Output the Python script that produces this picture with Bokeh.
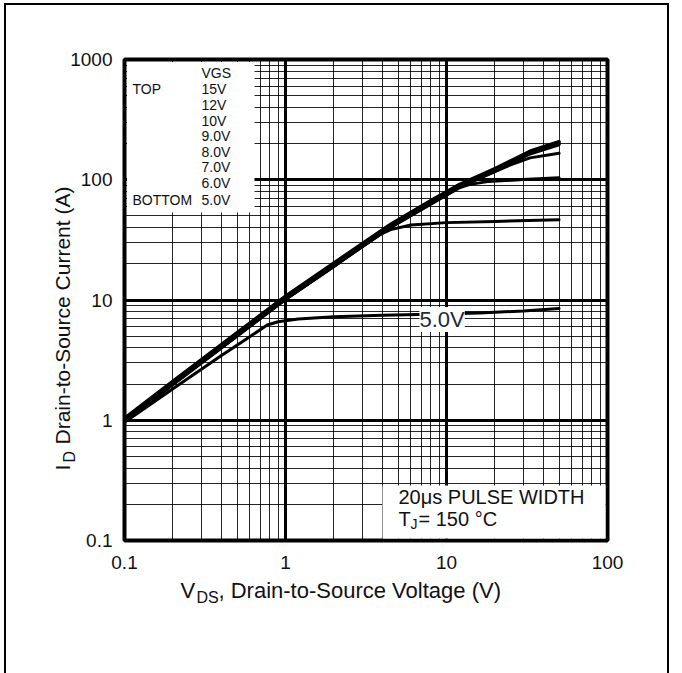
import math
from bokeh.plotting import figure
from bokeh.models import FixedTicker, Label, BoxAnnotation, Range1d
from bokeh.embed import file_html
from bokeh.resources import INLINE

# ---------------- data ----------------
vgs_labels = ["15V", "12V", "10V", "9.0V", "8.0V", "7.0V", "6.0V", "5.0V"]

vds_15v = [0.1, 0.2, 0.5, 1, 2, 4.5, 8, 12, 20, 33, 50]
id_15v = [1.04, 2.12, 5.36, 10.8, 20.4, 42.8, 67.5, 91.5, 124, 173, 208]

vds_12v = [0.1, 0.2, 0.5, 1, 2, 4.5, 8, 12, 20, 33, 50]
id_12v = [1.02, 2.08, 5.26, 10.6, 20.0, 42.0, 66.2, 90, 122, 170, 204]

vds_10v = [0.1, 0.2, 0.5, 1, 2, 4.5, 8, 12, 20, 33, 50]
id_10v = [1.0, 2.04, 5.16, 10.4, 19.6, 41.2, 65, 88.5, 120, 167, 200]

vds_9v = [0.1, 0.2, 0.5, 1, 2, 4.5, 8, 12, 20, 33, 50]
id_9v = [0.98, 2.0, 5.06, 10.2, 19.2, 40.4, 63.8, 87, 118, 164, 196]

vds_8v = [0.1, 0.2, 0.5, 1, 2, 4.5, 8, 12, 18, 25, 33, 50]
id_8v = [0.98, 2.0, 5.06, 10.2, 19.2, 40.4, 63.5, 86.5, 110, 133, 152, 166]

vds_7v = [0.1, 0.2, 0.5, 1, 2, 4.5, 8, 10, 12, 14, 18, 30, 50]
id_7v = [0.98, 1.99, 5.04, 10.15, 19.1, 40.2, 62.5, 74.5, 85.5, 91.5, 96.5, 100.5, 104]

vds_6v = [0.1, 0.2, 0.5, 1, 2, 3.5, 4.5, 6, 10, 20, 50]
id_6v = [0.97, 1.98, 5.0, 10.1, 19.0, 33.0, 38.5, 42.0, 44.0, 45.0, 46.5]

vds_5v = [0.1, 0.2, 0.4, 0.6, 0.77, 0.9, 1.2, 2, 4, 8, 16, 30, 50]
id_5v = [0.96, 1.83, 3.45, 4.95, 6.2, 6.6, 6.95, 7.25, 7.45, 7.6, 7.8, 8.1, 8.5]

x_ticks = [0.1, 1, 10, 100]
x_tick_labels = ["0.1", "1", "10", "100"]
y_ticks = [0.1, 1, 10, 100, 1000]
y_tick_labels = ["0.1", "1", "10", "100", "1000"]

curves = [
    (vds_15v, id_15v, 3.2),
    (vds_12v, id_12v, 3.2),
    (vds_10v, id_10v, 3.2),
    (vds_9v, id_9v, 3.2),
    (vds_8v, id_8v, 3.0),
    (vds_7v, id_7v, 3.0),
    (vds_6v, id_6v, 3.0),
    (vds_5v, id_5v, 3.0),
]

# ---------------- layout geometry ----------------
OFF = 0                      # observed page offset of the figure
W, H = 672, 673
FL, FT, FW, FH = 124, 59, 483, 481  # frame left/top/width/height inside figure
FONT = "Liberation Sans"
TXT = "#111111"


def xd(px):
    # page pixel -> Vds
    return 0.1 * 10 ** ((px - OFF - FL) / FW * 3)


def yd(py):
    return 10 ** (3 - (py - OFF - FT) / FH * 4)


p = figure(width=W, height=H, x_axis_type="log", y_axis_type="log",
           x_range=Range1d(0.1, 100), y_range=Range1d(0.1, 1000),
           output_backend="svg", toolbar_location=None,
           min_border_left=FL, min_border_right=W - FL - FW,
           min_border_top=FT, min_border_bottom=H - FT - FH)
# outer frame lines (left, top, right) drawn as the page background behind a transparent border
p.border_fill_color = None
p.styles = {
    "background": "linear-gradient(#000,#000) 4px 3px / 2px 100% no-repeat,"
                  "linear-gradient(#000,#000) 4px 3px / calc(100% - 7px) 2px no-repeat,"
                  "linear-gradient(#000,#000) calc(100% - 3px) 3px / 2px 100% no-repeat,"
                  "#ffffff"
}

p.outline_line_color = "black"
p.outline_line_width = 4
p.background_fill_color = "white"

x_minor = [m * 10 ** e for e in range(-1, 2) for m in range(2, 10)]
y_minor = [m * 10 ** e for e in range(-1, 3) for m in range(2, 10)]
p.xaxis.ticker = FixedTicker(ticks=x_ticks, minor_ticks=x_minor)
p.yaxis.ticker = FixedTicker(ticks=y_ticks, minor_ticks=y_minor)
p.xaxis.major_label_overrides = dict(zip(x_ticks, x_tick_labels))
p.yaxis.major_label_overrides = dict(zip(y_ticks, y_tick_labels))

for ax in (p.xaxis, p.yaxis):
    ax.axis_line_color = None
    ax.major_tick_line_color = None
    ax.minor_tick_line_color = None
    ax.major_label_text_font = FONT
    ax.major_label_text_font_size = "19px"
    ax.major_label_text_color = TXT
p.xaxis.major_label_standoff = 9
p.yaxis.major_label_standoff = 6

for g in (p.xgrid, p.ygrid):
    g.grid_line_color = "black"
    g.grid_line_width = 3
    g.minor_grid_line_color = "black"
    g.minor_grid_line_width = 1
    g.minor_grid_line_alpha = 0.85

for vx, iy, lw in curves:
    p.line(vx, iy, line_color="black", line_width=lw, line_join="round", line_cap="round")

# white boxes that hide the grid
p.add_layout(BoxAnnotation(left=xd(126.5), right=xd(254), top=yd(61.5), bottom=yd(212),
                           fill_color="white", fill_alpha=1, line_color=None))
p.add_layout(BoxAnnotation(left=xd(382), right=xd(605), top=yd(485), bottom=yd(538),
                           fill_color="white", fill_alpha=1, line_color=None))


def lab(x, y, text, size, where=None, **kw):
    lb = Label(x=x, y=y, text=text, text_font=FONT, text_font_size=size,
               text_baseline="middle", text_align="left", text_color=TXT, **kw)
    if where is None:
        p.add_layout(lb)
    else:
        p.add_layout(lb, where)


# legend text
legend_rows_y = [72, 88, 104, 120, 135, 151, 166, 182, 199]
legend_texts = ["VGS"] + vgs_labels
for t, py in zip(legend_texts, legend_rows_y):
    lab(xd(201), yd(py), t, "14px")
lab(xd(132), yd(88), "TOP", "14px")
lab(xd(132), yd(199), "BOTTOM", "14px")

# 5.0V curve label
p.add_layout(Label(x=xd(419), y=yd(319), text="5.0V", text_font=FONT, text_font_size="22px",
                   text_baseline="middle", text_align="left", text_color="#1a2a40",
                   background_fill_color="white", background_fill_alpha=1))

# condition box text
lab(xd(398), yd(496), "20\u03bcs PULSE WIDTH", "20px")
lab(xd(398), yd(518), "T", "20px")
lab(xd(410), yd(523), "J", "14px")
lab(xd(418), yd(518), "= 150  \u00b0C", "20px")

# axis labels: placed in side panels (not clipped to the frame), spread over the panels
lab(xd(180), yd(590), "V", "22px", "below")
lab(xd(196), yd(597), "DS", "16px", "above")
lab(xd(218), yd(590), ", Drain-to-Source Voltage (V)", "22px", "below")

lab(xd(62), yd(470), "I", "21px", "above", angle=math.pi / 2)
lab(xd(69), yd(462), "D", "16px", "right", angle=math.pi / 2)
lab(xd(62), yd(444), "Drain-to-Source Current (A)", "21px", "left", angle=math.pi / 2)

open("out.html", "w").write(file_html(p, INLINE))
